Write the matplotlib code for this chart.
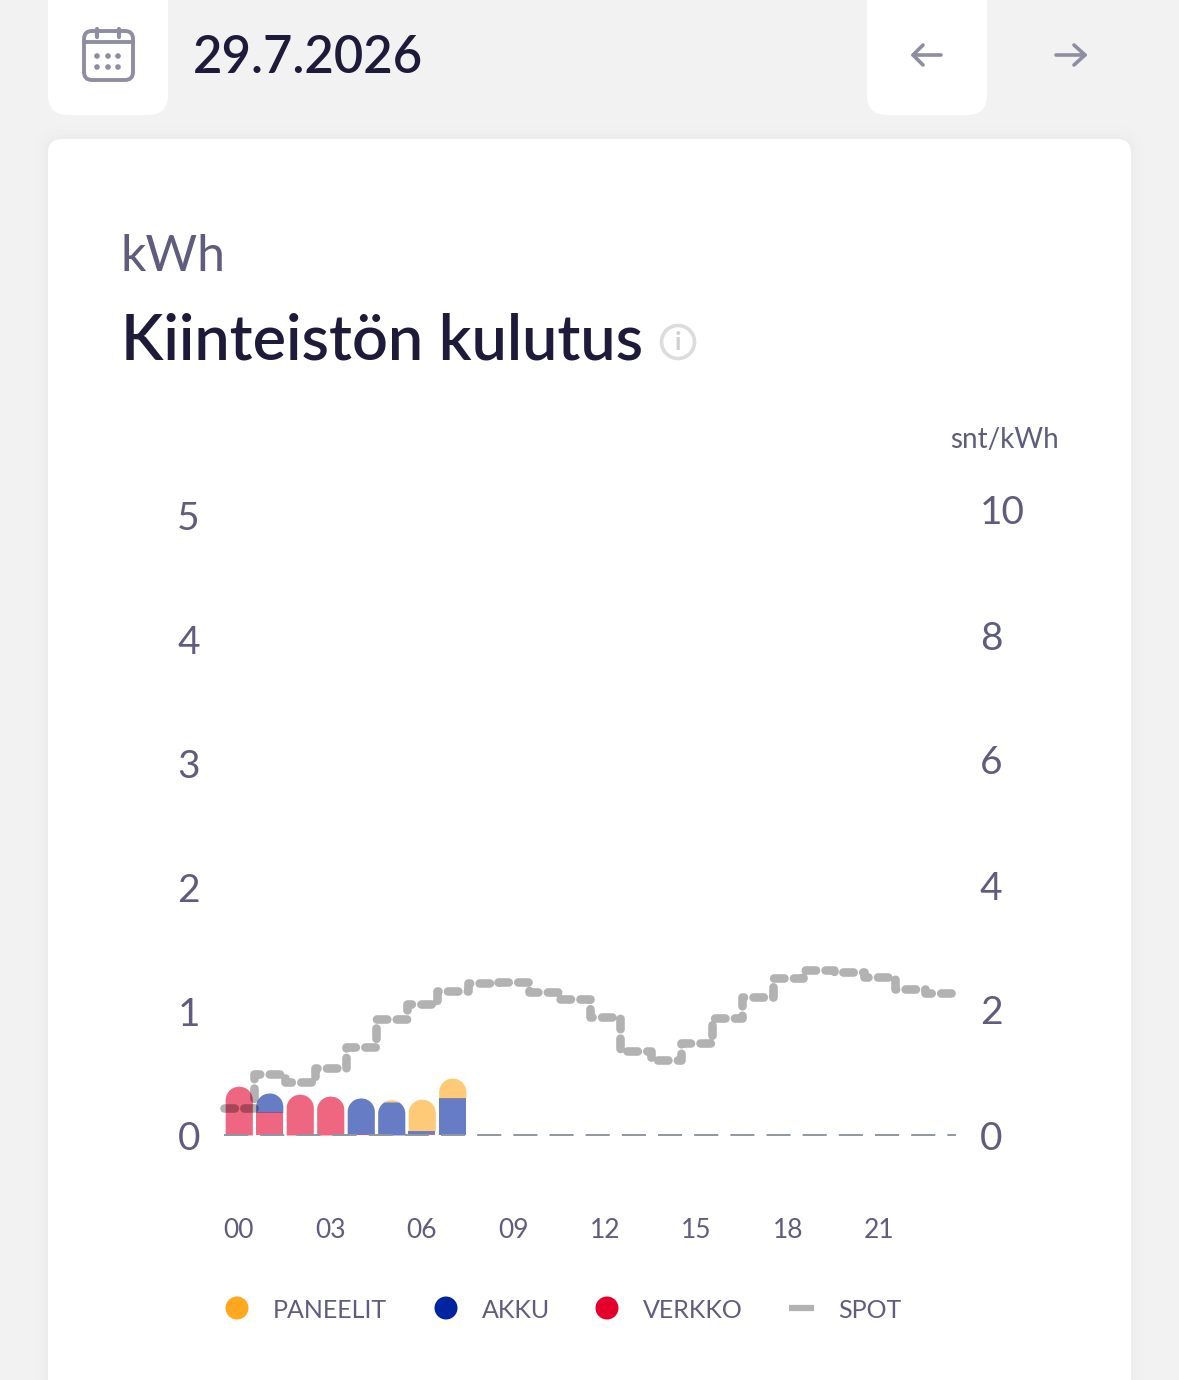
import numpy as np
import matplotlib
matplotlib.use("Agg")
import matplotlib.pyplot as plt
from matplotlib.patches import FancyBboxPatch, Circle, Ellipse

plt.rcParams['font.family'] = ['Lato', 'DejaVu Sans']

# values
hours = list(range(8))
verkko = [0.395, 0.185, 0.33, 0.315, 0.01, 0.0, 0.005, 0.0]
akku = [0.0, 0.155, 0.0, 0.0, 0.29, 0.268, 0.03, 0.30]
paneelit = [0.0, 0.0, 0.0, 0.0, 0.0, 0.017, 0.255, 0.16]
spot = [0.43, 0.97, 0.85, 1.07, 1.41, 1.86, 2.10, 2.31, 2.44, 2.45, 2.29, 2.17,
        1.89, 1.35, 1.20, 1.47, 1.87, 2.21, 2.51, 2.64, 2.61, 2.53, 2.34, 2.27]
zero_line = [0] * 24
xtick_pos = [0, 3, 6, 9, 12, 15, 18, 21]
xtick_labels = ['00', '03', '06', '09', '12', '15', '18', '21']
left_ticks = [0, 1, 2, 3, 4, 5]
right_ticks = [0, 2, 4, 6, 8, 10]
legend_names = ['PANEELIT', 'AKKU', 'VERKKO', 'SPOT']

W, H = 1179, 1380
PAGE = '#f2f2f3'
DARK = '#1e1b3a'
MUTED = '#5f5c7e'
ICON = '#8f8da2'
RED = '#e4002b'
BLUE = '#00259e'
YELLOW = '#ffa81f'

fig = plt.figure(figsize=(W / 100, H / 100), dpi=100, facecolor=PAGE)

# page furniture in pixel coordinates
bg = fig.add_axes([0, 0, 1, 1])
bg.set_xlim(0, W)
bg.set_ylim(H, 0)
bg.axis('off')


def rounded(x0, y0, x1, y1, r, **kw):
    p = FancyBboxPatch((x0 + r, y0 + r), x1 - x0 - 2 * r, y1 - y0 - 2 * r,
                       boxstyle=f'round,pad={r},rounding_size={r}', **kw)
    bg.add_patch(p)


for grow, a in [(14, 0.004), (9, 0.005), (5, 0.006), (2, 0.008)]:
    rounded(48 - grow, 139 - grow, 1131 + grow, 1450, 14 + grow, fc='black', ec='none', alpha=a)
rounded(48, 139, 1131, 1450, 14, fc='white', ec='none')
rounded(48, -40, 168, 115, 20, fc='white', ec='none')
rounded(867, -40, 987, 115, 20, fc='white', ec='none')

# calendar icon
rounded(84, 31, 133, 80, 8, fc='none', ec=ICON, lw=2.8)
bg.plot([84, 133], [42, 42], color=ICON, lw=2.8)
for px in (97, 119):
    bg.plot([px, px], [29, 37], color=ICON, lw=3, solid_capstyle='round')
for px in (97, 108, 118):
    for py in (56, 67):
        bg.add_patch(Circle((px, py), 2.8, fc=ICON, ec='none'))

# arrows
bg.plot([941, 913], [55, 55], color=ICON, lw=2.6, solid_capstyle='round')
bg.plot([923, 913, 923], [45, 55, 65], color=ICON, lw=2.6, solid_capstyle='round', solid_joinstyle='round')
bg.plot([1056, 1085], [55, 55], color=ICON, lw=2.6, solid_capstyle='round')
bg.plot([1074, 1085, 1074], [45, 55, 65], color=ICON, lw=2.6, solid_capstyle='round', solid_joinstyle='round')

bg.text(193, 73, '29.7.2026', fontsize=36.5, color=DARK, weight='semibold', va='baseline')
bg.text(121, 271, 'kWh', fontsize=36, color=MUTED, va='baseline')
bg.text(121, 359, 'Kiinteistön kulutus', fontsize=45.3, color=DARK, weight='semibold', va='baseline')
bg.add_patch(Circle((678, 342), 16.5, fc='none', ec='#dcdcdc', lw=2.6))
bg.text(678, 342, 'i', fontsize=18, color='#d0d0d0', weight='bold', ha='center', va='center')
bg.text(950, 448, 'snt/kWh', fontsize=20, color=MUTED, va='baseline')

# legend
for cx, col in zip((237, 446, 607), (YELLOW, BLUE, RED)):
    bg.add_patch(Ellipse((cx, 1308), 23, 23, fc=col, ec='none'))
bg.plot([789, 814], [1308, 1308], color='#b2b2b2', lw=4.5, solid_capstyle='butt')
for tx, name in zip((273, 482, 643, 838), legend_names):
    bg.text(tx, 1318, name, fontsize=18, color=MUTED, va='baseline')

# chart axes, left scale kWh, top of the box sits at the right scale's 10
x0, x1 = 223.5, 955.5
y0, y1 = 1135, 510
ax = fig.add_axes([x0 / W, 1 - y0 / H, (x1 - x0) / W, (y0 - y1) / H])
ax.patch.set_alpha(0)

bar_w = 0.89
rx = bar_w / 2
ry = rx * 30.5 / 123.8


def half_width(y, total):
    out = np.full_like(y, rx)
    top = y > total - ry
    out[top] = rx * np.sqrt(np.clip(1 - ((y[top] - (total - ry)) / ry) ** 2, 0, 1))
    return out


for i, h in enumerate(hours):
    total = verkko[i] + akku[i] + paneelit[i]
    base = 0
    for vals, col in ((verkko, RED), (akku, BLUE), (paneelit, YELLOW)):
        v = vals[i]
        if v > 0:
            ys = np.linspace(base, base + v, 60)
            hw = half_width(ys, total)
            ax.fill_betweenx(ys, h - hw, h + hw, color=col, alpha=0.6, lw=0)
        base += v

ax.plot(np.arange(25) - 0.5, zero_line + [zero_line[-1]], color='#8d98a3', lw=1.4,
        drawstyle='steps-post', dashes=(12.4, 6.2), clip_on=False)

ax.set_xticks(xtick_pos)
ax.set_xticklabels(xtick_labels, fontsize=19, color=MUTED)
ax.set_yticks(left_ticks)
ax.set_xlim(-0.5, 23.5)
ax.set_ylim(0, (y0 - y1) / 123.8)
ax.tick_params(axis='x', length=0, pad=59.5)
ax.tick_params(axis='y', length=0, pad=17, labelsize=28, labelcolor=MUTED)
for s in ax.spines.values():
    s.set_visible(False)

# right scale snt/kWh
ax2 = ax.twinx()
ax2.plot(np.arange(25) - 0.5, spot + [spot[-1]], drawstyle='steps-post', color='black', alpha=0.3,
         lw=6.2, dashes=(1.2, 1.1), dash_capstyle='round', dash_joinstyle='round', clip_on=False)
ax2.set_yticks(right_ticks)
ax2.set_ylim(0, 10)
ax2.set_xlim(-0.5, 23.5)
ax2.tick_params(axis='y', length=0, pad=17.5, labelsize=28, labelcolor=MUTED)
for s in ax2.spines.values():
    s.set_visible(False)

fig.savefig('out.png', dpi=100, facecolor=PAGE)
